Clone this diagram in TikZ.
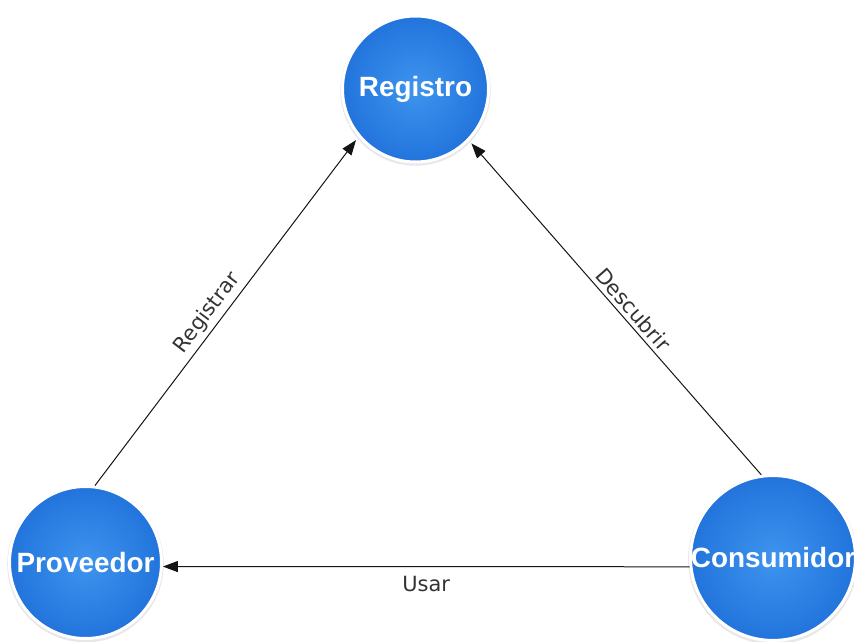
\documentclass[tikz,border=0pt]{standalone}
\usepackage{fontspec}
\setmainfont{DejaVu Sans}
\newfontfamily\nodefont{Liberation Sans}
\usetikzlibrary{arrows.meta,shadows}
\definecolor{bubin}{RGB}{62,148,238}
\definecolor{bubout}{RGB}{34,116,220}
\definecolor{linec}{RGB}{20,20,20}
\tikzset{
  bubble/.style={circle, draw=white, line width=3bp, inner color=bubin, outer color=bubout,
    text=white, font=\nodefont\bfseries\fontsize{28}{30}\selectfont, inner sep=0pt,
    drop shadow={opacity=0.15, shadow xshift=0bp, shadow yshift=-1.5bp, shadow scale=1.03, fill=black!60}},
  conn/.style={draw=linec, line width=1bp, -{Triangle[length=15bp,width=11bp]}},
  lbl/.style={font=\fontsize{21}{23}\selectfont, text=black!80, inner sep=4bp}
}
\begin{document}
\begin{tikzpicture}[x=1bp,y=-1bp]
\useasboundingbox (0,0) rectangle (854,642);
\fill[white] (0,0) rectangle (854,642);
\clip (0,0) rectangle (854,642);
\node[bubble, minimum size=146bp] (reg) at (415.5,89) {Registro};
\node[bubble, minimum size=152bp] (prov) at (85.5,562.5) {Proveedor};
\node[bubble, minimum size=161bp] (cons) at (773,558) {Consumidor};
\draw[conn, shorten >=4bp] (prov.83) -- node[lbl, pos=0.47, sloped, above] {Registrar} (reg.220);
\draw[conn, shorten >=3.5bp] (cons.98) -- node[lbl, pos=0.47, sloped, above] {Descubrir} (reg.316);
\draw[conn] (cons.186) -- node[lbl, midway, below, inner sep=9bp] {Usar} (prov.-3);
\end{tikzpicture}
\end{document}
